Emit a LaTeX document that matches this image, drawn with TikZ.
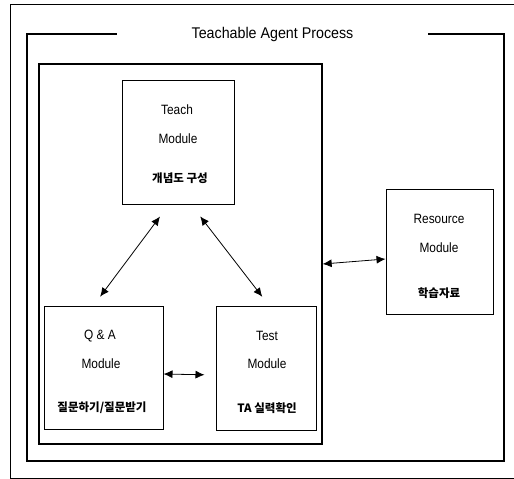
\documentclass[tikz,border=0pt]{standalone}
\usepackage{fontspec}
\setmainfont{Liberation Sans}
\newfontfamily\cond[FakeStretch=0.88]{Liberation Sans}
\newfontfamily\titlefont[FakeStretch=0.92]{Liberation Sans}
\newfontfamily\kr{Noto Sans CJK KR}
\usetikzlibrary{arrows.meta}
\begin{document}
\begin{tikzpicture}[x=1pt,y=-1pt,
  modbox/.style={draw=black,line width=1pt,rectangle,inner sep=0pt},
  entxt/.style={inner sep=0pt,font=\fontsize{13.5}{15}\cond,anchor=center},
  krtxt/.style={inner sep=0pt,font=\fontsize{11.5}{14}\kr\bfseries,anchor=center},
  biarrow/.style={line width=0.8pt,{Latex[length=9pt,width=8pt]}-{Latex[length=9pt,width=8pt]}}]
\useasboundingbox (0,0) rectangle (514,479);
% outer thin border
\coordinate (o1) at (516,4);
\coordinate (o2) at (10,4);
\coordinate (o3) at (10,478);
\coordinate (o4) at (516,478);
\draw[line width=1pt] (o1) -- (o2) -- (o3) -- (o4);
% thick frame
\draw[line width=2.5pt] (27,34) rectangle (504,461);
\node[fill=white,minimum width=311pt,minimum height=10pt,inner sep=0pt,
      font=\fontsize{15.5}{17}\titlefont] (title) at (272.5,34) {Teachable Agent Process};
% inner box
\node[draw=black,line width=1.3pt,minimum width=283pt,minimum height=380pt,inner sep=0pt] (inner) at (180.5,254) {};
% modules
\node[modbox,minimum width=112pt,minimum height=124pt] (teach) at (178,142) {};
\node[entxt] (teach1) at (177,110) {Teach};
\node[entxt] (teach2) at (178,139) {Module};
\node[krtxt] (teach3) at (180,178) {개념도 구성};

\node[modbox,minimum width=119pt,minimum height=123pt] (qa) at (103.5,367.5) {};
\node[entxt] (qa1) at (100,336) {Q \& A};
\node[entxt] (qa2) at (101,364) {Module};
\node[krtxt] (qa3) at (102,408) {질문하기/질문받기};

\node[modbox,minimum width=100pt,minimum height=124pt] (test) at (266,368) {};
\node[entxt] (test1) at (267,336) {Test};
\node[entxt] (test2) at (267,364) {Module};
\node[krtxt] (test3) at (267,408) {TA 실력확인};

\node[modbox,minimum width=107pt,minimum height=125pt] (res) at (439.5,251.5) {};
\node[entxt] (res1) at (439,219) {Resource};
\node[entxt] (res2) at (439,248) {Module};
\node[krtxt] (res3) at (439,293) {학습자료};

% connectors
\draw[biarrow,shorten <=15pt,shorten >=11pt] ([xshift=-9pt]teach.south) -- ([xshift=-10pt]qa.north);
\draw[biarrow,shorten <=15pt,shorten >=11pt] ([xshift=13pt]teach.south) -- ([xshift=3pt]test.north);
\draw[biarrow,shorten >=11pt] ([yshift=-6.5pt]qa.east) -- ([yshift=-7pt]test.west);
\draw[biarrow] ([yshift=-10pt]inner.east) -- ([yshift=-7.5pt]res.west);
\end{tikzpicture}
\end{document}
